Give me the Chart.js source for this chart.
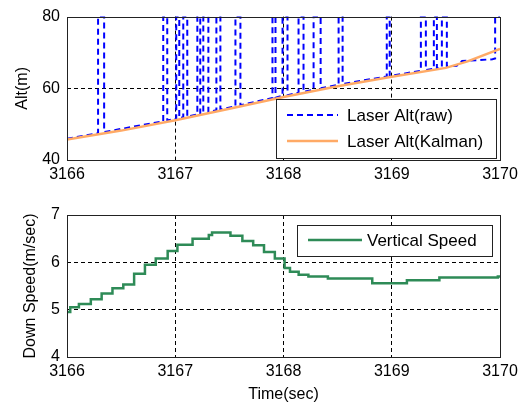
<!DOCTYPE html>
<html>
<head>
<meta charset="utf-8">
<script src="https://cdn.jsdelivr.net/npm/chart.js@4.4.1/dist/chart.umd.min.js"></script>
<style>
  html, body { margin: 0; padding: 0; background: #fff; }
  #wrap { position: relative; width: 527px; height: 404px; }
  #altChart { position: absolute; left: 0; top: 0; }
  #speedChart { position: absolute; left: 0; top: 195px; }
</style>
</head>
<body>
<div id="wrap">
  <canvas id="altChart" width="527" height="192"></canvas>
  <canvas id="speedChart" width="527" height="209"></canvas>
</div>
<script>
// tick labels
const timeTicks = [3166, 3167, 3168, 3169, 3170];
const altTicks = [40, 60, 80];
const speedTicks = [4, 5, 6, 7];

// raw laser altitude - the spikes to 80 are dropouts
const rawTime = [3166.000,
  3166.287, 3166.287, 3166.343, 3166.343,
  3166.889, 3166.889, 3166.926, 3166.926,
  3167.009, 3167.009, 3167.037, 3167.037,
  3167.074, 3167.074, 3167.111, 3167.111,
  3167.204, 3167.204, 3167.231, 3167.231,
  3167.259, 3167.259, 3167.306, 3167.306,
  3167.380, 3167.380, 3167.417, 3167.417,
  3167.556, 3167.556, 3167.602, 3167.602,
  3167.898, 3167.898, 3167.926, 3167.926,
  3167.991, 3167.991, 3168.037, 3168.037,
  3168.139, 3168.139, 3168.185, 3168.185,
  3168.278, 3168.278, 3168.343, 3168.343,
  3168.509, 3168.509, 3168.546, 3168.546,
  3168.954, 3168.954, 3168.981, 3168.981,
  3169.269, 3169.269, 3169.315, 3169.315,
  3169.389, 3169.389, 3169.417, 3169.417,
  3169.463, 3169.463, 3169.509, 3169.509,
  3169.600, 3169.650, 3169.930, 3169.955, 3169.955, 3170.000];
const rawAlt = [45.9,
  47.5, 80, 80, 47.8,
  50.8, 80, 80, 51.0,
  51.5, 80, 80, 51.7,
  51.9, 80, 80, 52.1,
  52.7, 80, 80, 52.9,
  53.1, 80, 80, 53.4,
  53.9, 80, 80, 54.1,
  55.0, 80, 80, 55.3,
  57.3, 80, 80, 57.4,
  57.9, 80, 80, 58.1,
  58.8, 80, 80, 59.0,
  59.6, 80, 80, 60.0,
  61.0, 80, 80, 61.2,
  63.3, 80, 80, 63.4,
  64.9, 80, 80, 65.1,
  65.5, 80, 80, 65.6,
  65.9, 80, 80, 66.1,
  66.3, 67.6, 68.1, 68.3, 80, 80];

// kalman filtered altitude
const kalmanTime = [3166.0, 3166.5, 3167.0, 3167.5, 3168.0, 3168.5, 3169.0, 3169.5, 3169.7, 3170.0];
const kalmanAlt = [45.7, 48.2, 51.1, 54.3, 57.6, 60.6, 63.2, 65.7, 67.5, 71.0];

// vertical (down) speed, value held from each time to the next
const speedTime = [3166.00, 3166.03, 3166.11, 3166.22, 3166.32, 3166.42, 3166.52, 3166.62,
  3166.72, 3166.82, 3166.93, 3167.02, 3167.16, 3167.31, 3167.34, 3167.51, 3167.62, 3167.72,
  3167.82, 3167.92, 3168.01, 3168.06, 3168.14, 3168.23, 3168.41, 3168.82, 3169.14, 3169.44,
  3169.98, 3170.00];
const speedVal = [4.95, 5.05, 5.12, 5.22, 5.34, 5.45, 5.53, 5.76,
  5.95, 6.08, 6.24, 6.37, 6.50, 6.58, 6.63, 6.56, 6.45, 6.36,
  6.22, 6.08, 5.88, 5.80, 5.74, 5.70, 5.66, 5.56, 5.62, 5.68,
  5.70, 5.70];

const pts = (xs, ys) => xs.map((x, i) => ({x: x, y: ys[i]}));

Chart.defaults.font.family = "'Liberation Sans', Arial, sans-serif";
Chart.defaults.font.size = 16;
Chart.defaults.color = '#000';

// dashed grid only on the inner ticks
const innerGrid = (lo, hi) => ({
  color: c => (c.tick && c.tick.value > lo && c.tick.value < hi) ? '#000' : 'rgba(0,0,0,0)',
  lineWidth: 1,
  drawTicks: false
});

const frame = {
  id: 'frame',
  afterDatasetsDraw(chart) {
    const a = chart.chartArea, ctx = chart.ctx;
    ctx.save();
    ctx.strokeStyle = '#222';
    ctx.lineWidth = 1;
    ctx.strokeRect(Math.round(a.left) + 0.5, Math.round(a.top) + 0.5,
      Math.round(a.right - a.left), Math.round(a.bottom - a.top));
    ctx.restore();
  }
};

// legend drawn as a box inside the axes
const boxLegend = {
  id: 'boxLegend',
  afterDraw(chart, args, o) {
    const ctx = chart.ctx;
    const [bx, by, bw, bh] = o.box;
    ctx.save();
    ctx.fillStyle = '#fff';
    ctx.fillRect(bx, by, bw, bh);
    ctx.strokeStyle = '#222';
    ctx.lineWidth = 1;
    ctx.strokeRect(bx + 0.5, by + 0.5, bw, bh);
    chart.data.datasets.forEach((ds, i) => {
      const y = by + o.rowY + i * o.rowGap;
      ctx.beginPath();
      ctx.strokeStyle = ds.borderColor;
      ctx.lineWidth = ds.borderWidth;
      ctx.setLineDash(ds.borderDash || []);
      ctx.moveTo(bx + o.lineX, y);
      ctx.lineTo(bx + o.lineX + o.lineLen, y);
      ctx.stroke();
      ctx.setLineDash([]);
      ctx.fillStyle = '#000';
      ctx.font = "17px 'Liberation Sans', Arial, sans-serif";
      ctx.textBaseline = 'middle';
      ctx.fillText(ds.label, bx + o.textX, y + 1);
    });
    ctx.restore();
  }
};

new Chart(document.getElementById('altChart'), {
  type: 'line',
  data: {
    datasets: [
      {
        label: 'Laser Alt(raw)',
        data: pts(rawTime, rawAlt),
        borderColor: '#0000ff',
        borderWidth: 2,
        borderDash: [6, 4],
        pointRadius: 0,
        order: 2
      },
      {
        label: 'Laser Alt(Kalman)',
        data: pts(kalmanTime, kalmanAlt),
        borderColor: '#ffaa66',
        borderWidth: 2.5,
        pointRadius: 0,
        order: 1
      }
    ]
  },
  options: {
    responsive: false,
    animation: false,
    layout: {padding: {left: 0, top: 16, right: 27, bottom: 0}},
    plugins: {
      legend: {display: false},
      tooltip: {enabled: false},
      boxLegend: {box: [276, 99, 220, 59], rowY: 16, rowGap: 26, lineX: 11, lineLen: 51, textX: 71}
    },
    scales: {
      x: {
        type: 'linear',
        min: 3166, max: 3170,
        afterBuildTicks: s => { s.ticks = timeTicks.map(v => ({value: v})); },
        afterFit: s => { s.height = 32; },
        ticks: {callback: v => String(v), padding: 5, maxRotation: 0},
        grid: innerGrid(3166, 3170),
        border: {display: false, dash: [4, 3]}
      },
      y: {
        min: 40, max: 80,
        afterBuildTicks: s => { s.ticks = altTicks.map(v => ({value: v})); },
        afterFit: s => { s.width = 67; },
        ticks: {padding: 7},
        grid: innerGrid(40, 80),
        border: {display: false, dash: [4, 3]},
        title: {display: true, text: 'Alt(m)', padding: {top: 13, bottom: 0}}
      }
    }
  },
  plugins: [frame, boxLegend]
});

new Chart(document.getElementById('speedChart'), {
  type: 'line',
  data: {
    datasets: [
      {
        label: 'Vertical Speed',
        data: pts(speedTime, speedVal),
        borderColor: '#2e8b57',
        borderWidth: 2.5,
        pointRadius: 0,
        stepped: true
      }
    ]
  },
  options: {
    responsive: false,
    animation: false,
    layout: {padding: {left: 0, top: 20, right: 27, bottom: 0}},
    plugins: {
      legend: {display: false},
      tooltip: {enabled: false},
      boxLegend: {box: [297, 30, 195, 31], rowY: 15, rowGap: 26, lineX: 11, lineLen: 54, textX: 70}
    },
    scales: {
      x: {
        type: 'linear',
        min: 3166, max: 3170,
        afterBuildTicks: s => { s.ticks = timeTicks.map(v => ({value: v})); },
        afterFit: s => { s.height = 47; },
        ticks: {callback: v => String(v), padding: 5, maxRotation: 0},
        grid: innerGrid(3166, 3170),
        border: {display: false, dash: [4, 3]},
        title: {display: true, text: 'Time(sec)', padding: {top: 0, bottom: 0}}
      },
      y: {
        min: 4, max: 7,
        afterBuildTicks: s => { s.ticks = speedTicks.map(v => ({value: v})); },
        afterFit: s => { s.width = 67; },
        ticks: {padding: 7},
        grid: innerGrid(4, 7),
        border: {display: false, dash: [4, 3]},
        title: {display: true, text: 'Down Speed(m/sec)', padding: {top: 21, bottom: 0}}
      }
    }
  },
  plugins: [frame, boxLegend]
});
</script>
</body>
</html>
